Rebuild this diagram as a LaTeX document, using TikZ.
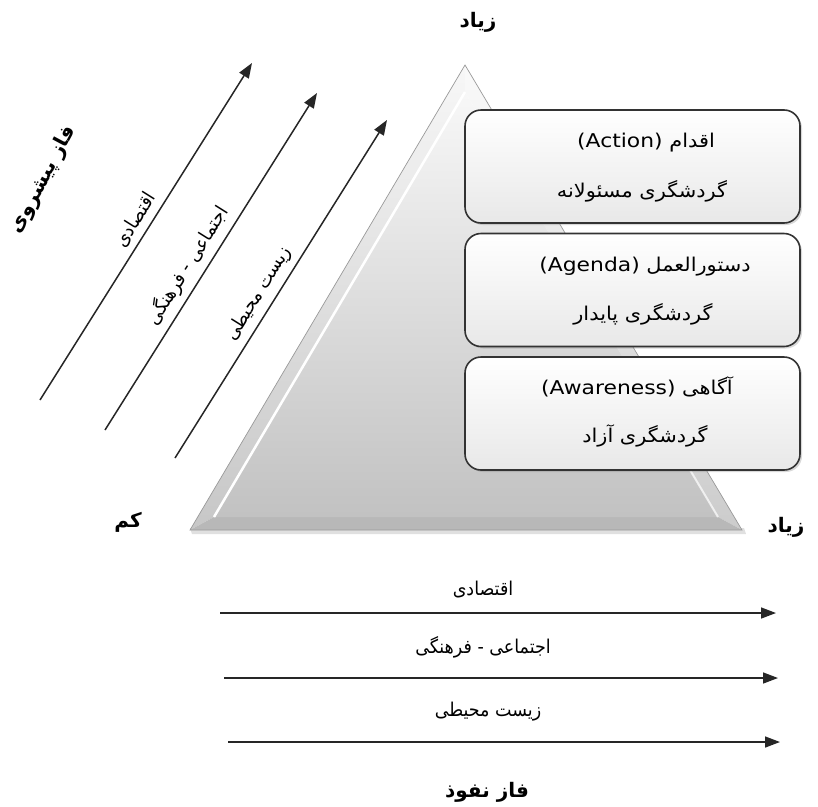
\documentclass[tikz,border=0pt]{standalone}
\usepackage{fontspec}
\TeXXeTstate=1
\newfontfamily\persfont[Script=Arabic,FakeStretch=0.92]{DejaVu Sans}
\newfontfamily\persbox[Script=Arabic,FakeStretch=1.1]{DejaVu Sans}
\newfontfamily\persbold[Script=Arabic]{DejaVu Sans Bold}
\newfontfamily\latfont[FakeStretch=1.15]{DejaVu Sans}
\usetikzlibrary{arrows.meta,shadows,calc}
\newcommand{\RL}[1]{\beginR #1\endR}
\newcommand{\LR}[1]{{\latfont\beginL #1\endL}}
\begin{document}
\begin{tikzpicture}[x=1pt,y=-1pt,
  arr/.style={line width=1.5pt, draw=black!85, -{Triangle[length=15pt,width=11pt]}},
  lbl/.style={font=\persfont\fontsize{19}{22}\selectfont, inner sep=1pt},
  blbl/.style={font=\persbold\fontsize{20}{22}\selectfont, inner sep=1pt},
  boxtxt/.style={font=\persbox\fontsize{19}{22}\selectfont, inner sep=1pt},
  stepbox/.style={draw=black!80, line width=1.6pt, rounded corners=16pt,
    top color=white, bottom color=black!9, minimum width=335pt, minimum height=113pt,
    drop shadow={opacity=0.3, shadow xshift=2pt, shadow yshift=-2pt}},
]
\useasboundingbox (0,0) rectangle (818,806);
% triangle
\coordinate (A) at (465,65);
\coordinate (B) at (190,530);
\coordinate (C) at (742,530);
\coordinate (Ai) at (465,92);
\coordinate (Bi) at (214,517);
\coordinate (Ci) at (718,517);
\fill[black!12] (192,534) -- (746,534) -- (744,528) -- (190,528) -- cycle;
\path[top color=black!3, bottom color=black!22] (A) -- (B) -- (Bi) -- (Ai) -- cycle;
\path[top color=black!2, bottom color=black!20] (A) -- (Ai) -- (Ci) -- (C) -- cycle;
\fill[black!28] (B) -- (C) -- (Ci) -- (Bi) -- cycle;
\path[top color=black!3, bottom color=black!24] (Ai) -- (Bi) -- (Ci) -- cycle;
\draw[white, line width=2.5pt] (Ai) -- (Bi);
\draw[white, line width=2pt, opacity=0.7] (Ci) -- ($(Ci)!0.3!(Ai)$);
\draw[black!40, line width=0.7pt] (A) -- (B) -- (C) -- cycle;
% boxes
\node[stepbox] (box1) at (632.5,166.5) {};
\node[stepbox] (box2) at (632.5,290) {};
\node[stepbox] (box3) at (632.5,413.5) {};
\node[boxtxt] (t1a) at (646,143) {\RL{اقدام \LR{(Action)}}};
\node[boxtxt] (t1b) at (642,191) {\RL{گردشگری مسئولانه}};
\node[boxtxt] (t2a) at (645,267) {\RL{دستورالعمل \LR{(Agenda)}}};
\node[boxtxt] (t2b) at (643,314) {\RL{گردشگری پایدار}};
\node[boxtxt] (t3a) at (637,387) {\RL{آگاهی \LR{(Awareness)}}};
\node[boxtxt] (t3b) at (645,436) {\RL{گردشگری آزاد}};
% corner labels
\node[blbl] (top) at (478,22) {\RL{زیاد}};
\node[blbl] (low) at (128,522) {\RL{کم}};
\node[blbl] (high) at (786,527) {\RL{زیاد}};
\node[blbl] (pen) at (487,792) {\RL{فاز نفوذ}};
\node[blbl, rotate=62] (adv) at (43,180) {\RL{فاز پیشروی}};
% diagonal arrows
\coordinate (l1s) at (40,400);
\coordinate (l1e) at (252,63);
\coordinate (l2s) at (105,430);
\coordinate (l2e) at (317,93);
\coordinate (l3s) at (175,458);
\coordinate (l3e) at (387,120);
\draw[arr] (l1s) -- node[lbl, sloped, above=5pt, pos=0.51] (d1) {\RL{اقتصادی}} (l1e);
\draw[arr] (l2s) -- node[lbl, sloped, above=5pt, pos=0.46] (d2) {\RL{اجتماعی - فرهنگی}} (l2e);
\draw[arr] (l3s) -- node[lbl, sloped, above=5pt, pos=0.46] (d3) {\RL{زیست محیطی}} (l3e);
% horizontal arrows
\coordinate (h1s) at (220,613);
\coordinate (h1e) at (776,613);
\coordinate (h2s) at (224,678);
\coordinate (h2e) at (778,678);
\coordinate (h3s) at (228,742);
\coordinate (h3e) at (780,742);
\draw[arr] (h1s) -- (h1e);
\draw[arr] (h2s) -- (h2e);
\draw[arr] (h3s) -- (h3e);
\node[lbl] (b1) at (483,590) {\RL{اقتصادی}};
\node[lbl] (b2) at (483,647) {\RL{اجتماعی - فرهنگی}};
\node[lbl] (b3) at (488,712) {\RL{زیست محیطی}};
\end{tikzpicture}
\end{document}
